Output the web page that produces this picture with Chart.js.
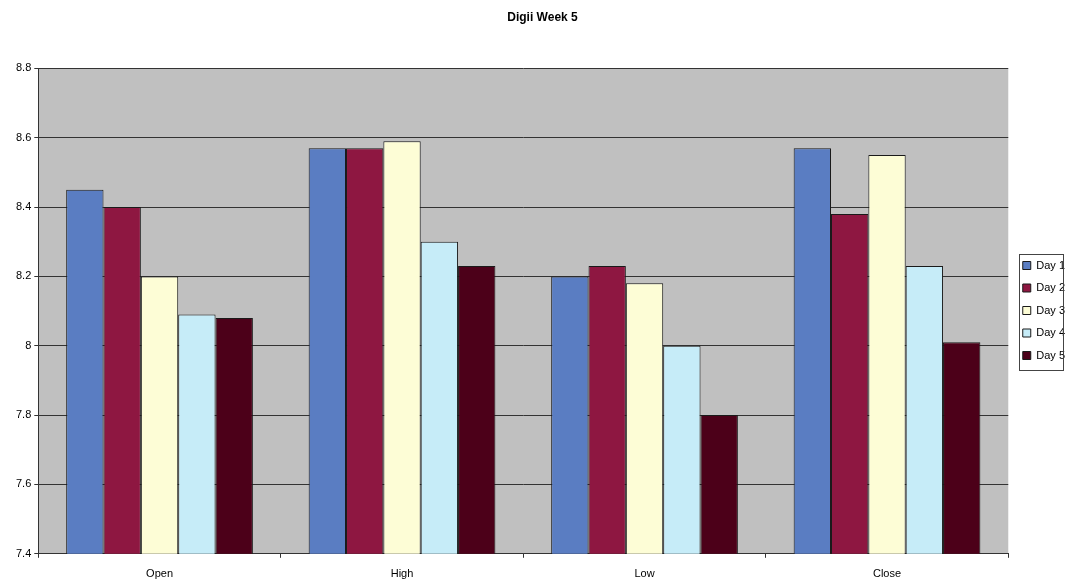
<!DOCTYPE html>
<html>
<head>
<meta charset="utf-8">
<script src="https://cdn.jsdelivr.net/npm/chart.js@4.4.1/dist/chart.umd.min.js"></script>
<style>
  html, body { margin: 0; padding: 0; background: #fff; }
  #wrap { width: 1083px; height: 583px; }
</style>
</head>
<body>
<div id="wrap"><canvas id="weekChart" width="1083" height="583"></canvas></div>
<script>
const categories = ['Open', 'High', 'Low', 'Close'];
const day1 = [8.45, 8.57, 8.20, 8.57];
const day2 = [8.40, 8.57, 8.23, 8.38];
const day3 = [8.20, 8.59, 8.18, 8.55];
const day4 = [8.09, 8.30, 8.00, 8.23];
const day5 = [8.08, 8.23, 7.80, 8.01];
const seriesNames = ['Day 1', 'Day 2', 'Day 3', 'Day 4', 'Day 5'];
const seriesColors = ['#5a7dc2', '#8e1741', '#fdfdd6', '#c6ecf8', '#4c0019'];

// grey plot area, nudge legend down/right, box round the legend items
const plotBg = {
    id: 'plotBg',
    afterLayout(chart) {
        const l = chart.legend;
        const dx = 3, dy = 15;
        l.left += dx; l.right += dx;
        l.top += dy; l.bottom += dy;
        (l.legendHitBoxes || []).forEach(b => { b.left += dx; b.top += dy; });
    },
    beforeDraw(chart) {
        const { ctx, chartArea: a } = chart;
        ctx.save();
        ctx.fillStyle = '#c0c0c0';
        ctx.fillRect(a.left, a.top, a.right - a.left, a.bottom - a.top);
        ctx.restore();
    },
    afterDraw(chart) {
        const boxes = chart.legend.legendHitBoxes;
        if (!boxes || !boxes.length) return;
        const first = boxes[0], last = boxes[boxes.length - 1];
        const x0 = Math.min(...boxes.map(b => b.left)) - 7;
        const x1 = Math.max(...boxes.map(b => b.left + b.width)) - 5;
        const y0 = first.top + first.height / 2 - 12;
        const y1 = last.top + last.height / 2 + 14;
        const ctx = chart.ctx;
        ctx.save();
        ctx.strokeStyle = '#444';
        ctx.lineWidth = 1;
        ctx.strokeRect(Math.round(x0) + 0.5, Math.round(y0) + 0.5, Math.round(x1 - x0), Math.round(y1 - y0));
        ctx.restore();
    }
};

const datasets = [day1, day2, day3, day4, day5].map((vals, i) => ({
    label: seriesNames[i],
    data: vals,
    backgroundColor: seriesColors[i],
    borderColor: '#1a1a1a',
    borderWidth: 1,
    borderSkipped: 'bottom'
}));

new Chart(document.getElementById('weekChart').getContext('2d'), {
    type: 'bar',
    data: { labels: categories, datasets: datasets },
    plugins: [plotBg],
    options: {
        responsive: false,
        animation: false,
        layout: { padding: { left: 13, right: 11, top: 0, bottom: -8 } },
        datasets: { bar: { categoryPercentage: 0.77, barPercentage: 1.0 } },
        plugins: {
            title: {
                display: true,
                text: 'Digii Week 5',
                color: '#000',
                font: { family: 'Arial, "Liberation Sans", sans-serif', size: 12, weight: 'bold' },
                padding: { top: 10, bottom: 44 }
            },
            legend: {
                position: 'right',
                align: 'center',
                labels: {
                    color: '#000',
                    boxWidth: 8,
                    boxHeight: 8,
                    padding: 11.5,
                    font: { family: 'Arial, "Liberation Sans", sans-serif', size: 11 }
                }
            },
            tooltip: { enabled: false }
        },
        scales: {
            x: {
                grid: { display: true, drawOnChartArea: false, drawTicks: true, tickLength: 4, offset: true, color: '#333' },
                border: { color: '#333' },
                ticks: { color: '#000', font: { family: 'Arial, "Liberation Sans", sans-serif', size: 11 }, padding: 10 }
            },
            y: {
                min: 7.4,
                max: 8.8,
                ticks: {
                    stepSize: 0.2,
                    color: '#000',
                    font: { family: 'Arial, "Liberation Sans", sans-serif', size: 11 },
                    padding: 3,
                    callback: v => String(Number(v.toFixed(1)))
                },
                grid: { color: '#333', tickLength: 4 },
                border: { color: '#333' }
            }
        }
    }
});
</script>
</body>
</html>
